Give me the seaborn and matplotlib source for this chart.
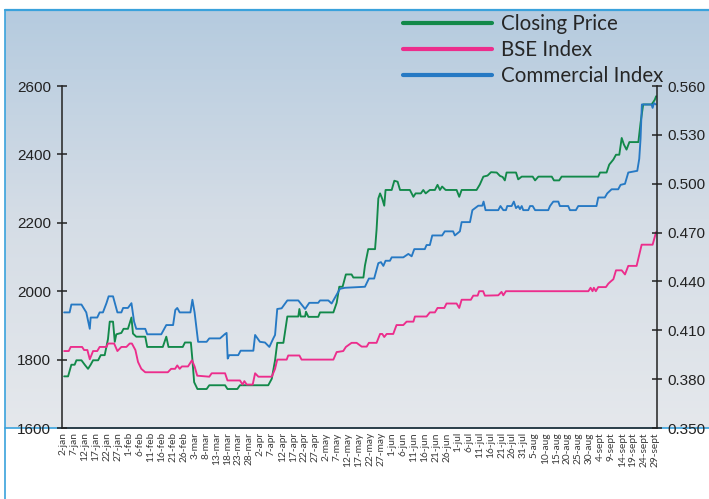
import matplotlib
matplotlib.use("Agg")
import numpy as np
import matplotlib.pyplot as plt
import seaborn as sns
from matplotlib.lines import Line2D
from matplotlib.colors import LinearSegmentedColormap

# day offsets counted from 2-jan, values
close_day = [0.5, 2.3, 3.8, 5.3, 6.1, 8.4, 9.9, 11.4, 12.6, 13.7,
             16.0, 17.2, 19.0, 20.5, 21.3, 22.8, 23.6, 24.3, 26.6, 27.6,
             29.6, 31.2, 31.9, 33.4, 37.5, 38.4, 45.5, 47.1, 48.1, 54.6,
             55.6, 58.3, 59.0, 59.8, 61.3, 65.5, 66.7, 73.9, 75.0, 79.5,
             80.7, 93.6, 95.2, 96.7, 97.7, 100.5, 101.7, 102.3, 107.3, 107.8,
             108.4, 110.4, 110.8, 111.9, 116.4, 117.2, 123.3, 124.8, 126.0, 127.5,
             129.0, 131.6, 132.4, 137.0, 137.7, 139.2, 142.3, 143.0, 143.8, 144.6,
             145.6, 146.5, 147.1, 149.9, 151.1, 152.6, 153.7, 158.2, 159.8, 160.8,
             163.2, 164.3, 165.4, 167.3, 169.6, 170.8, 171.9, 172.9, 174.5, 179.5,
             180.7, 181.8, 188.6, 190.1, 191.7, 193.6, 195.2, 197.8, 199.3, 200.5,
             201.5, 202.3, 206.6, 207.6, 209.2, 214.2, 215.3, 216.8, 222.9, 223.9,
             226.3, 227.4, 244.1, 244.9, 247.9, 249.1, 251.0, 252.2, 253.7, 254.8,
             255.8, 257.0, 258.3, 262.4, 263.4, 264.6, 268.4, 269.2, 269.9, 270.5]
close_val = [1751, 1751, 1785, 1785, 1798, 1798, 1785, 1773, 1785, 1798,
             1798, 1813, 1813, 1860, 1911, 1911, 1852, 1874, 1878, 1890,
             1890, 1923, 1876, 1867, 1867, 1837, 1837, 1867, 1837, 1837,
             1850, 1850, 1800, 1734, 1714, 1714, 1725, 1725, 1714, 1714,
             1725, 1725, 1744, 1798, 1849, 1849, 1901, 1926, 1926, 1948,
             1926, 1926, 1940, 1925, 1925, 1938, 1938, 1966, 2013, 2013,
             2049, 2049, 2040, 2040, 2075, 2123, 2123, 2180, 2271, 2286,
             2270, 2250, 2296, 2296, 2323, 2320, 2296, 2296, 2276, 2286,
             2286, 2296, 2286, 2296, 2296, 2311, 2296, 2306, 2296, 2296,
             2276, 2296, 2296, 2312, 2335, 2338, 2348, 2347, 2337, 2334,
             2324, 2347, 2347, 2327, 2335, 2335, 2324, 2335, 2335, 2324,
             2324, 2335, 2335, 2347, 2347, 2370, 2385, 2399, 2399, 2448,
             2429, 2414, 2436, 2436, 2492, 2546, 2546, 2553, 2560, 2570]

bse_day = [0.5, 2.6, 3.5, 8.7, 9.6, 11.1, 12.2, 13.7, 15.6, 16.7,
           19.8, 20.5, 23.3, 24.8, 26.6, 28.9, 30.4, 31.4, 33.0, 34.2,
           35.7, 37.5, 47.8, 49.3, 51.1, 52.1, 53.2, 54.2, 57.0, 58.8,
           60.0, 61.2, 66.7, 67.8, 73.9, 75.0, 80.7, 81.9, 82.7, 83.8,
           86.5, 87.6, 89.1, 95.2, 96.7, 97.7, 102.0, 102.7, 107.8, 108.8,
           123.3, 124.8, 127.8, 129.0, 131.6, 133.9, 136.2, 138.5, 139.5, 143.0,
           144.6, 145.6, 146.5, 147.6, 150.6, 152.1, 155.2, 156.7, 159.8, 160.5,
           165.8, 167.3, 169.6, 170.8, 173.9, 174.9, 179.5, 180.7, 181.8, 186.0,
           187.1, 189.1, 189.8, 191.6, 192.4, 198.5, 200.0, 200.8, 202.0, 239.6,
           240.6, 241.5, 242.1, 243.0, 244.1, 247.6, 248.7, 249.7, 251.0, 252.2,
           254.8, 256.3, 257.8, 261.6, 263.9, 268.9, 270.5]
bse_val = [1825, 1825, 1837, 1837, 1828, 1828, 1801, 1825, 1825, 1837,
           1837, 1847, 1847, 1825, 1837, 1837, 1847, 1847, 1828, 1793,
           1773, 1763, 1763, 1773, 1773, 1783, 1773, 1780, 1780, 1798,
           1780, 1753, 1750, 1760, 1760, 1739, 1739, 1727, 1737, 1727,
           1727, 1760, 1750, 1750, 1773, 1800, 1800, 1812, 1812, 1800,
           1800, 1822, 1825, 1837, 1849, 1849, 1838, 1838, 1849, 1849,
           1875, 1875, 1866, 1875, 1875, 1901, 1901, 1911, 1911, 1926,
           1926, 1938, 1938, 1951, 1951, 1964, 1964, 1951, 1975, 1975,
           1987, 1987, 2000, 2000, 1987, 1988, 1998, 1988, 2000, 2000,
           2010, 2000, 2010, 2000, 2012, 2012, 2022, 2028, 2035, 2061,
           2061, 2049, 2074, 2074, 2136, 2136, 2173]

comm_day = [0.5, 3.0, 3.8, 8.4, 10.6, 12.2, 12.6, 15.6, 16.7, 18.2,
            19.8, 20.8, 22.8, 24.8, 26.6, 27.4, 29.6, 31.2, 32.4, 33.4,
            37.5, 38.4, 44.8, 47.1, 50.2, 51.2, 52.1, 53.2, 58.1, 59.0,
            60.0, 61.6, 65.5, 66.7, 71.6, 73.9, 74.6, 75.1, 75.8, 79.9,
            81.0, 86.8, 87.6, 89.8, 92.1, 94.1, 95.9, 96.7, 97.7, 99.7,
            102.3, 107.3, 110.4, 112.3, 116.4, 117.2, 121.0, 122.5, 124.8, 126.3,
            128.6, 137.7, 139.5, 141.9, 143.8, 145.0, 146.1, 147.1, 149.1, 149.9,
            155.2, 157.5, 159.0, 160.2, 165.0, 165.8, 167.3, 168.4, 172.9, 174.1,
            177.9, 178.7, 181.0, 181.8, 185.6, 186.7, 189.4, 191.2, 191.8, 192.7,
            198.5, 199.5, 200.8, 202.0, 202.6, 204.6, 205.6, 206.6, 207.6, 208.4,
            209.2, 209.9, 212.2, 213.0, 214.2, 215.3, 221.3, 222.1, 223.6, 225.9,
            226.6, 230.4, 231.2, 233.9, 235.0, 243.3, 244.1, 247.1, 248.2, 250.2,
            253.2, 254.3, 256.3, 257.8, 260.4, 261.9, 262.8, 263.4, 264.0, 268.4,
            268.9, 269.5, 270.4]
comm_val = [1938, 1938, 1961, 1961, 1938, 1890, 1923, 1923, 1938, 1938,
            1965, 1985, 1985, 1938, 1938, 1951, 1951, 1965, 1911, 1890,
            1890, 1874, 1874, 1901, 1901, 1945, 1951, 1938, 1938, 1975,
            1938, 1852, 1852, 1862, 1862, 1875, 1878, 1803, 1813, 1813,
            1826, 1826, 1872, 1852, 1850, 1837, 1862, 1872, 1948, 1950,
            1973, 1973, 1948, 1966, 1966, 1973, 1973, 1964, 1990, 2007,
            2010, 2013, 2037, 2037, 2082, 2085, 2074, 2089, 2089, 2099,
            2099, 2109, 2102, 2123, 2123, 2135, 2135, 2163, 2163, 2175,
            2175, 2163, 2175, 2202, 2202, 2237, 2250, 2250, 2262, 2237,
            2237, 2249, 2237, 2237, 2249, 2249, 2262, 2243, 2249, 2240,
            2249, 2237, 2237, 2249, 2249, 2237, 2237, 2249, 2262, 2262,
            2249, 2249, 2237, 2237, 2249, 2249, 2274, 2274, 2286, 2298,
            2298, 2311, 2314, 2347, 2350, 2352, 2387, 2446, 2546, 2546,
            2536, 2550, 2546]

date_labels = ["2-jan", "7-jan", "12-jan", "17-jan", "22-jan", "27-jan",
               "1-feb", "6-feb", "11-feb", "16-feb", "21-feb", "26-feb",
               "3-mar", "8-mar", "13-mar", "18-mar", "23-mar", "28-mar",
               "2-apr", "7-apr", "12-apr", "17-apr", "22-apr", "27-apr",
               "2-may", "7-may", "12-may", "17-may", "22-may", "27-may",
               "1-jun", "6-jun", "11-jun", "16-jun", "21-jun", "26-jun",
               "1-jul", "6-jul", "11-jul", "16-jul", "21-jul", "26-jul", "31-jul",
               "5-aug", "10-aug", "15-aug", "20-aug", "25-aug", "30-aug",
               "4-sept", "9-sept", "14-sept", "19-sept", "24-sept", "29-sept"]

series_names = ["Closing Price", "BSE Index", "Commercial Index"]
series_colors = ["#12894a", "#ec2d8c", "#2679c4"]

sns.set_style("ticks")
plt.rcParams["font.family"] = ["Liberation Sans", "DejaVu Sans"]

W, H = 709, 499
fig = plt.figure(figsize=(W / 100, H / 100), dpi=100)

# gradient panel behind the plot
bg = fig.add_axes([5 / W, 1 - 428 / H, 704 / W, 418 / H], zorder=0)
cmap = LinearSegmentedColormap.from_list("panel", ["#b5cbdf", "#d5dde6", "#e5e8ec"])
bg.imshow(np.linspace(0, 1, 256).reshape(-1, 1), aspect="auto", cmap=cmap,
          extent=[0, 1, 0, 1], origin="upper")
bg.axis("off")
edge = "#3aa2dc"
fig.add_artist(Line2D([5 / W, 1], [1 - 10 / H, 1 - 10 / H], color=edge, lw=1.6))
fig.add_artist(Line2D([5 / W, 5 / W], [0, 1 - 10 / H], color=edge, lw=1.2))
fig.add_artist(Line2D([5 / W, 1], [1 - 428 / H, 1 - 428 / H], color=edge, lw=1.2))

ax = fig.add_axes([61.5 / W, 1 - 428 / H, (657 - 61.5) / W, 342 / H], zorder=2)
ax.patch.set_alpha(0)

for d, v, c in [(close_day, close_val, series_colors[0]),
                (bse_day, bse_val, series_colors[1]),
                (comm_day, comm_val, series_colors[2])]:
    sns.lineplot(x=d, y=v, ax=ax, color=c, lw=1.35, estimator=None, sort=False)

ax.set_xlim(-0.7, 270.9)
ax.set_ylim(1600, 2600)
ax.set_yticks(range(1600, 2601, 200))
ax.set_xticks(range(0, 271, 5))
ax.set_xticklabels(date_labels, rotation=90, fontsize=7.3, family="Lato", color="#3a3a3a")
ax.tick_params(axis="x", length=0, pad=3)
ax.tick_params(axis="y", direction="inout", length=7, width=1.1, colors="#222222",
               labelsize=11, pad=4)
ax.set_xlabel("")
ax.set_ylabel("")
for s in ["top", "right"]:
    ax.spines[s].set_visible(False)
for s in ["left", "bottom"]:
    ax.spines[s].set_color("#222222")
    ax.spines[s].set_linewidth(1.1)

ax2 = ax.twinx()
ax2.set_ylim(0.35, 0.56)
ax2.set_yticks(np.arange(0.35, 0.5601, 0.03))
ax2.set_yticklabels(["%.3f" % t for t in np.arange(0.35, 0.5601, 0.03)])
ax2.tick_params(axis="y", direction="inout", length=7, width=1.1, colors="#222222",
                labelsize=11, pad=4)
for s in ["top", "left", "bottom"]:
    ax2.spines[s].set_visible(False)
ax2.spines["right"].set_color("#222222")
ax2.spines["right"].set_linewidth(1.1)

handles = [Line2D([], [], color=c, lw=3) for c in series_colors]
fig.legend(handles, series_names, loc="upper left", bbox_to_anchor=(403 / W, 1 - 14 / H),
           frameon=False, prop=dict(family="Lato", size=14.8), handlelength=4.35,
           handletextpad=0.42, labelspacing=0.3, borderpad=0, borderaxespad=0)

fig.savefig("out.png", dpi=100)
